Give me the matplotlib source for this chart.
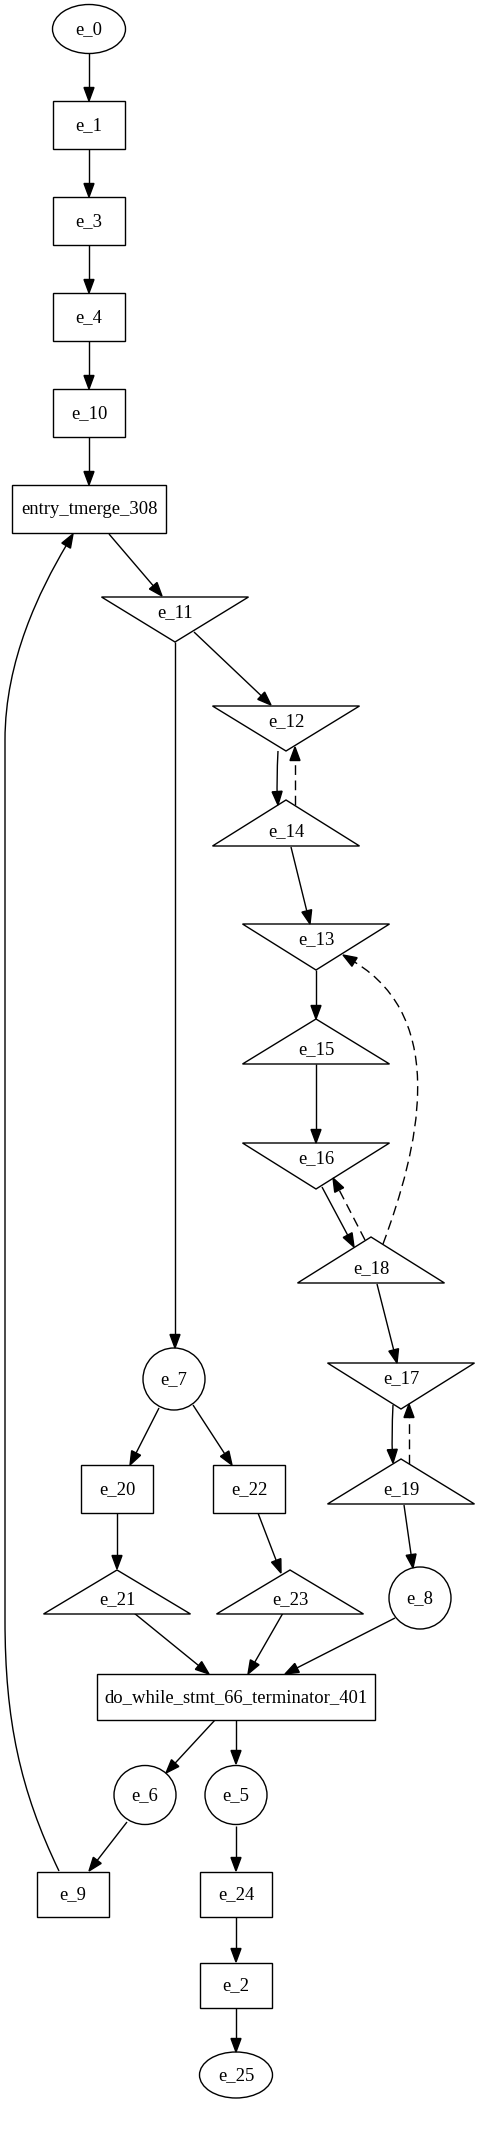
import matplotlib
matplotlib.use("Agg")
import matplotlib.pyplot as plt
import numpy as np
from matplotlib.patches import Ellipse, Polygon, Rectangle, PathPatch
from matplotlib.path import Path

# nodes: name, shape, label centre (px, y downwards)
node_names = ["e_0", "e_1", "e_3", "e_4", "e_10", "entry_tmerge_308", "e_11", "e_12",
              "e_14", "e_13", "e_15", "e_16", "e_18", "e_17", "e_19", "e_7", "e_20",
              "e_22", "e_21", "e_23", "e_8", "do_while_stmt_66_terminator_401", "e_6",
              "e_5", "e_9", "e_24", "e_2", "e_25"]
node_shapes = ["ellipse", "box", "box", "box", "box", "box", "invtri", "invtri",
               "tri", "invtri", "tri", "invtri", "tri", "invtri", "tri", "circle", "box",
               "box", "tri", "tri", "circle", "box", "circle",
               "circle", "box", "box", "box", "ellipse"]
node_x = [89, 89, 89, 89, 89, 89, 175, 286,
          286, 316, 316, 316, 371, 401, 401, 174, 117,
          249, 117, 290, 420, 236, 145,
          236, 73, 236, 236, 236]
node_y = [29, 125, 221, 317, 413, 509, 612, 721,
          831, 939, 1049, 1158, 1268, 1378, 1489, 1379, 1489,
          1489, 1599, 1599, 1598, 1697, 1795,
          1795, 1894, 1894, 1985, 2075]
node_w = [73, 72, 72, 72, 72, 154, 147, 147,
          147, 147, 147, 147, 147, 147, 147, 62, 72,
          72, 147, 147, 62, 278, 62,
          62, 72, 72, 72, 73]
node_h = [49, 48, 48, 48, 48, 48, 45, 45,
          46, 46, 45, 46, 46, 46, 45, 62, 48,
          48, 44, 44, 62, 46, 59,
          59, 45, 45, 45, 46]

# edges: (tail, head, dashed, bezier points ending at the arrow tip)
edges = [
    ("e_0", "e_1", False, [(89, 53), (89, 101)]),
    ("e_1", "e_3", False, [(89, 149), (89, 197)]),
    ("e_3", "e_4", False, [(89, 245), (89, 293)]),
    ("e_4", "e_10", False, [(89, 341), (89, 389)]),
    ("e_10", "entry_tmerge_308", False, [(89, 437), (89, 485)]),
    ("entry_tmerge_308", "e_11", False, [(109, 534), (162, 596)]),
    ("e_11", "e_12", False, [(194, 632), (271, 705)]),
    ("e_11", "e_7", False, [(175, 642), (175, 1348)]),
    ("e_12", "e_14", False, [(278, 751), (277, 770), (277, 790), (278, 805)]),
    ("e_14", "e_12", True, [(295, 805), (295, 747)]),
    ("e_14", "e_13", False, [(291, 847), (310, 924)]),
    ("e_13", "e_15", False, [(316, 970), (316, 1019)]),
    ("e_15", "e_16", False, [(316, 1064), (316, 1143)]),
    ("e_16", "e_18", False, [(322, 1187), (354, 1247)]),
    ("e_18", "e_16", True, [(365, 1240), (333, 1178)]),
    ("e_18", "e_13", True, [(383, 1244), (418, 1150), (450, 1020), (343, 955)]),
    ("e_18", "e_17", False, [(377, 1284), (397, 1363)]),
    ("e_17", "e_19", False, [(393, 1405), (392, 1425), (392, 1445), (393, 1463)]),
    ("e_19", "e_17", True, [(409, 1464), (409, 1404)]),
    ("e_19", "e_8", False, [(404, 1505), (413, 1568)]),
    ("e_7", "e_20", False, [(159, 1408), (130, 1465)]),
    ("e_7", "e_22", False, [(193, 1405), (232, 1465)]),
    ("e_20", "e_21", False, [(117, 1513), (117, 1569)]),
    ("e_22", "e_23", False, [(258, 1513), (281, 1573)]),
    ("e_21", "do_while_stmt_66_terminator_401", False, [(134, 1613), (209, 1674)]),
    ("e_23", "do_while_stmt_66_terminator_401", False, [(283, 1613), (248, 1674)]),
    ("e_8", "do_while_stmt_66_terminator_401", False, [(395, 1618), (285, 1674)]),
    ("do_while_stmt_66_terminator_401", "e_6", False, [(215, 1720), (166, 1773)]),
    ("do_while_stmt_66_terminator_401", "e_5", False, [(236, 1720), (236, 1764)]),
    ("e_6", "e_9", False, [(127, 1822), (89, 1871)]),
    ("e_5", "e_24", False, [(236, 1826), (236, 1871)]),
    ("e_24", "e_2", False, [(236, 1916), (236, 1962)]),
    ("e_2", "e_25", False, [(236, 2007), (236, 2052)]),
    ("e_9", "entry_tmerge_308", False,
     [(59, 1871), (20, 1790), (5, 1720), (5, 1620),
      (5, 1330), (5, 1030), (5, 740),
      (5, 660), (40, 590), (73, 534)]),
]

W, H = 480, 2133
LW = 1.0
FONT = ["Liberation Serif", "DejaVu Serif"]

fig = plt.figure(figsize=(W / 100, H / 100), dpi=100)
ax = fig.add_axes([0, 0, 1, 1])
ax.set_xlim(0, W)
ax.set_ylim(H, 0)
ax.axis("off")


def draw_node(shape, x, y, w, h):
    kw = dict(facecolor="white", edgecolor="black", lw=LW, zorder=2)
    if shape == "box":
        ax.add_patch(Rectangle((x - w / 2, y - h / 2), w, h, **kw))
    elif shape in ("ellipse", "circle"):
        ax.add_patch(Ellipse((x, y), w, h, **kw))
    elif shape == "invtri":
        top = y - 15
        ax.add_patch(Polygon([(x - w / 2, top), (x + w / 2, top), (x, top + h)],
                             closed=True, **kw))
    elif shape == "tri":
        base = y + 15
        ax.add_patch(Polygon([(x - w / 2, base), (x + w / 2, base), (x, base - h)],
                             closed=True, **kw))


for name, shape, x, y, w, h in zip(node_names, node_shapes, node_x, node_y, node_w, node_h):
    draw_node(shape, x, y, w, h)
    ax.text(x, y + 5.5, name, ha="center", va="baseline", family=FONT,
            fontsize=13.4, zorder=3)

for tail, head, dashed, pts in edges:
    pts = np.asarray(pts, float)
    if len(pts) == 2:
        codes = [Path.MOVETO, Path.LINETO]
    else:
        codes = [Path.MOVETO] + [Path.CURVE4] * (len(pts) - 1)
    tip = pts[-1]
    d = tip - pts[-2]
    d /= np.hypot(*d)
    n = np.array([-d[1], d[0]])
    base = tip - 13.5 * d
    # stop the line at the arrow base
    line_pts = pts.copy()
    line_pts[-1] = base
    ls = (0, (7, 4)) if dashed else "-"
    ax.add_patch(PathPatch(Path(line_pts, codes), facecolor="none", edgecolor="black",
                           lw=LW, linestyle=ls, zorder=1))
    ax.add_patch(Polygon([tip, base + 5 * n, base - 5 * n], closed=True,
                         facecolor="black", edgecolor="black", lw=LW, zorder=4))

fig.savefig("out.png", dpi=100)
